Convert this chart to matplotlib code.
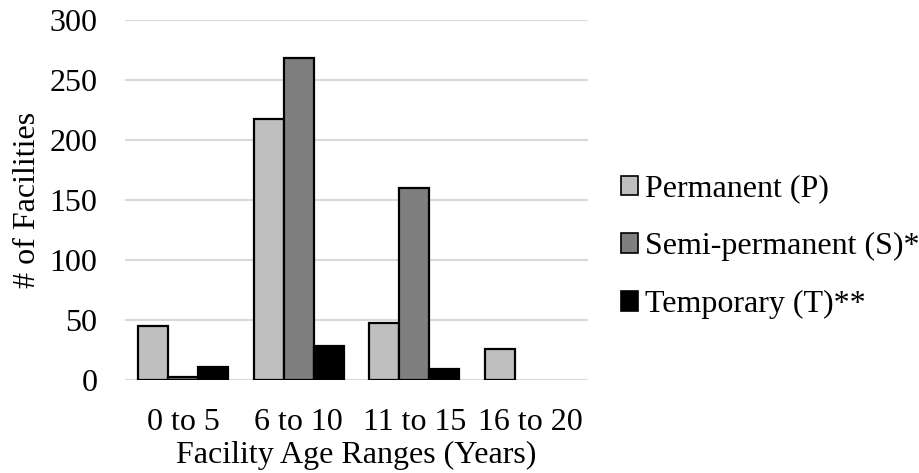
import numpy as np
import matplotlib.pyplot as plt
from matplotlib.patches import Patch

plt.rcParams['font.family'] = ['Liberation Serif', 'DejaVu Serif']

age_ranges = ['0 to 5', '6 to 10', '11 to 15', '16 to 20']
permanent = [45, 217, 47, 26]
semi_permanent = [2, 268, 160, 0]
temporary = [11, 28, 9, 0]

series = [
    ('Permanent (P)', permanent, '#bfbfbf'),
    ('Semi-permanent (S)*', semi_permanent, '#7f7f7f'),
    ('Temporary (T)**', temporary, '#000000'),
]

fig = plt.figure(figsize=(9.2, 4.73), dpi=100)
ax = fig.add_axes([0.136, 0.197, 0.503, 0.761])

x = np.arange(len(age_ranges))
w = 0.26
for i, (name, vals, col) in enumerate(series):
    for xi, v in zip(x + (i - 1) * w, vals):
        if v > 0:
            ax.bar(xi, v, w, color=col, edgecolor='black', linewidth=1.6, zorder=3)

ax.set_xlim(-0.5, len(age_ranges) - 0.5)
ax.set_ylim(0, 300)
ax.set_yticks(range(0, 301, 50))
ax.set_xticks(x)
ax.set_xticklabels(age_ranges)
ax.grid(axis='y', color='#d9d9d9', linewidth=1.5, zorder=0)
ax.set_axisbelow(True)
for s in ax.spines.values():
    s.set_visible(False)
ax.tick_params(length=0, labelsize=23)
ax.tick_params(axis='x', pad=20)
ax.tick_params(axis='y', pad=20)
ax.set_ylabel('# of Facilities', fontsize=23, labelpad=5)
ax.set_xlabel('Facility Age Ranges (Years)', fontsize=23, labelpad=3)

handles = [Patch(facecolor=c, edgecolor='black', linewidth=1.2, label=n)
           for n, _, c in series]
fig.legend(handles=handles, loc='center left', bbox_to_anchor=(0.661, 0.478),
           frameon=False, fontsize=23, handlelength=0.55, handleheight=0.55,
           handletextpad=0.2, labelspacing=0.9, borderaxespad=0)

fig.savefig('out.png', dpi=100)
